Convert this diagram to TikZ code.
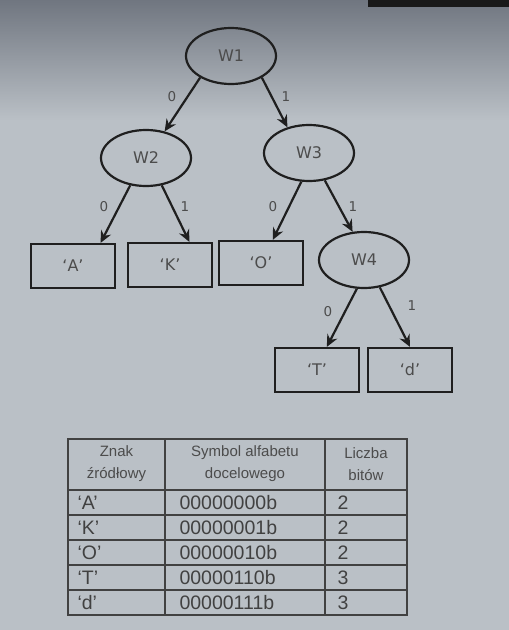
\documentclass[tikz,border=0pt]{standalone}
\usepackage{fontspec}
\setmainfont{DejaVu Sans}
\newfontfamily\tabfont{Liberation Sans}
\usetikzlibrary{arrows.meta,shapes.geometric}

\definecolor{paper}{HTML}{BAC0C6}
\definecolor{paperdark}{HTML}{707680}
\definecolor{ink}{HTML}{1F1F1F}

\begin{document}
\begin{tikzpicture}[x=1pt,y=-1pt,
  every node/.style = {text=ink!80},
  inner/.style = {shape=ellipse, draw=ink, line width=2.2pt, minimum width=90pt, minimum height=56pt, font=\fontsize{16}{16}\selectfont},
  leaf/.style = {shape=rectangle, draw=ink, line width=2.2pt, minimum width=84pt, minimum height=44pt, font=\fontsize{16}{16}\selectfont},
  bit/.style = {font=\fontsize{13.5}{13.5}\selectfont},
  branch/.style = {draw=ink, line width=2.2pt, -{Stealth[length=12pt,width=11pt,inset=4pt]}},
  rule/.style = {draw=ink!85, line width=1.8pt},
  cell/.style = {font=\tabfont\fontsize{19.5}{19.5}\selectfont, anchor=west, text=ink!85},
  head/.style = {font=\tabfont\fontsize{15}{22}\selectfont, align=center}]
% photo background
\fill[paper] (0,0) rectangle (509,630);
\shade[top color=paperdark, bottom color=paper] (0,0) rectangle (509,120);
\fill[black!90] (368,0) rectangle (509,7);
\useasboundingbox (0,0) rectangle (509,630);
% tree
\node[inner] (w1) at (231,56) {W1};
\node[inner] (w2) at (146,158) {W2};
\node[inner] (w3) at (309,153) {W3};
\node[inner] (w4) at (364,260) {W4};
\node[leaf] (A) at (73,266) {‘A’};
\node[leaf] (K) at (170,265) {‘K’};
\node[leaf] (O) at (261,263) {‘O’};
\node[leaf] (T) at (317,370) {‘T’};
\node[leaf] (d) at (410,370) {‘d’};
\draw[branch] (w1.215) -- (w2.55);
\draw[branch] (w1.325) -- (w3.130);
\draw[branch] (w2.240) -- (A.40);
\draw[branch] (w2.300) -- (K.50);
\draw[branch] (w3.255) -- (O.63);
\draw[branch] (w3.300) -- (w4.112);
\draw[branch] (w4.256) -- (T.67);
\draw[branch] (w4.300) -- (d.north);
% bit labels
\node[bit] (w1-0) at (172,97) {0};
\node[bit] (w1-1) at (286,97) {1};
\node[bit] (w2-0) at (104,207) {0};
\node[bit] (w2-1) at (185,207) {1};
\node[bit] (w3-0) at (273,207) {0};
\node[bit] (w3-1) at (353,207) {1};
\node[bit] (w4-0) at (328,312) {0};
\node[bit] (w4-1) at (412,306) {1};
% table
\draw[rule] (68,439) rectangle (407,615);
\draw[rule] (165,439) -- (165,615);
\draw[rule] (325,439) -- (325,615);
\foreach \y in {490,515,540,565,590}
  \draw[rule] (68,\y) -- (407,\y);
\node[head] (h1) at (116.5,464) {Znak\\źródłowy};
\node[head] (h2) at (245,464) {Symbol alfabetu\\docelowego};
\node[head] (h3) at (366,464) {Liczba\\bitów};
\foreach \ch/\code/\len [count=\i] in {A/00000000b/2,K/00000001b/2,O/00000010b/2,T/00000110b/3,d/00000111b/3} {
  \node[cell] (c\i) at (74,477.5+25*\i) {‘\ch’};
  \node[cell] (s\i) at (176,477.5+25*\i) {\code};
  \node[cell] (n\i) at (334,477.5+25*\i) {\len};
}
\end{tikzpicture}
\end{document}
